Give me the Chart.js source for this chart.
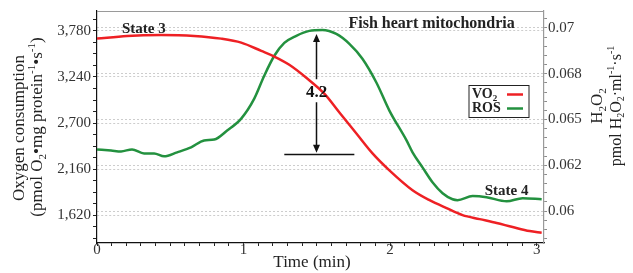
<!DOCTYPE html>
<html>
<head>
<meta charset="utf-8">
<script src="https://cdn.jsdelivr.net/npm/chart.js@4.4.1/dist/chart.umd.min.js"></script>
<style>
  body { margin: 0; background: #fff; }
</style>
</head>
<body>
<canvas id="myChart" width="633" height="273"></canvas>
<script>
// VO2 (left axis), time in minutes
const vo2Time = [0, 0.205, 0.437, 0.663, 0.847, 0.984, 1.121, 1.210, 1.312, 1.428, 1.551, 1.654, 1.770, 1.880, 1.995, 2.153, 2.269, 2.385, 2.494, 2.611, 2.727, 2.836, 2.952, 3.034];
const vo2Values = [3690, 3722, 3733, 3722, 3690, 3643, 3546, 3480, 3383, 3231, 3044, 2823, 2577, 2344, 2145, 1912, 1795, 1702, 1620, 1573, 1527, 1480, 1433, 1413];

// ROS / H2O2 (right axis)
const rosTime = [0, 0.096, 0.164, 0.239, 0.321, 0.390, 0.458, 0.547, 0.642, 0.731, 0.800, 0.888, 0.984, 1.073, 1.141, 1.210, 1.278, 1.360, 1.449, 1.538, 1.633, 1.722, 1.811, 1.907, 1.995, 2.112, 2.153, 2.221, 2.289, 2.358, 2.426, 2.460, 2.563, 2.658, 2.795, 2.904, 3.034];
const rosValues = [0.06337, 0.06331, 0.06326, 0.06337, 0.06315, 0.06315, 0.06299, 0.06321, 0.06348, 0.06386, 0.06391, 0.06440, 0.06505, 0.06614, 0.06739, 0.06848, 0.06918, 0.06957, 0.06984, 0.06989, 0.06967, 0.06913, 0.06832, 0.06701, 0.06549, 0.06386, 0.06321, 0.06239, 0.06158, 0.06098, 0.06065, 0.06060, 0.06082, 0.06076, 0.06054, 0.06071, 0.06065];

// tick labels
const xMajor = [0, 1, 2, 3];
const xLabels = ['0', '1', '2', '3'];
const leftMajor = [1620, 2160, 2700, 3240, 3780];
const leftLabels = ['1,620', '2,160', '2,700', '3,240', '3,780'];
const rightMajor = [0.06, 0.0625, 0.065, 0.0675, 0.07];
const rightLabels = ['0.06', '0.062', '0.065', '0.068', '0.07'];

const seriesNames = ['VO2', 'ROS'];

// annotation values (4.2-fold rise of ROS)
const arrowTime = 1.497;
const rosPeak = 0.06967;
const rosBase = 0.0631;
const foldLabel = '4.2';

const SERIF = "'Liberation Serif', 'DejaVu Serif', serif";
const RED = '#ee2024';
const GREEN = '#23913f';

function range(a, b, step) {
    const out = [];
    for (let v = a; v <= b + step / 1000; v += step) out.push(+v.toFixed(6));
    return out;
}

function makeTicks(minor, major) {
    return minor.map(v => ({ value: v, major: major.some(m => Math.abs(m - v) < 1e-7) }));
}

function labelFor(major, labels) {
    return function(value) {
        const i = major.findIndex(m => Math.abs(m - value) < 1e-7);
        return i >= 0 ? labels[i] : '';
    };
}

function drawRich(ctx, parts, x, y, size, weight, align) {
    const fontOf = p => weight + ' ' + (p[1] ? Math.round(size * 0.62) : size) + 'px ' + SERIF;
    let w = 0;
    parts.forEach(p => { ctx.font = fontOf(p); w += ctx.measureText(p[0]).width; });
    let cx = align === 'center' ? x - w / 2 : (align === 'right' ? x - w : x);
    ctx.textAlign = 'left';
    parts.forEach(p => {
        ctx.font = fontOf(p);
        const dy = p[1] === 'sub' ? size * 0.3 : (p[1] === 'sup' ? -size * 0.35 : 0);
        ctx.fillText(p[0], cx, y + dy);
        cx += ctx.measureText(p[0]).width;
    });
}

const overlayPlugin = {
    id: 'overlay',
    afterDraw(chart) {
        const ctx = chart.ctx;
        const a = chart.chartArea;
        const xs = chart.scales.x;
        const yl = chart.scales.y;
        const yr = chart.scales.y1;
        ctx.save();

        // top frame line
        ctx.strokeStyle = '#9a9a9a';
        ctx.lineWidth = 1;
        ctx.beginPath();
        ctx.moveTo(a.left, a.top + 0.5);
        ctx.lineTo(a.right, a.top + 0.5);
        ctx.stroke();

        ctx.fillStyle = '#222';
        ctx.textBaseline = 'middle';

        // left axis title
        ctx.save();
        ctx.translate(20, 128);
        ctx.rotate(-Math.PI / 2);
        drawRich(ctx, [['Oxygen consumption', '']], 0, 0, 17, 'normal', 'center');
        ctx.restore();
        ctx.save();
        ctx.translate(38, 127);
        ctx.rotate(-Math.PI / 2);
        drawRich(ctx, [['(pmol O', ''], ['2', 'sub'], ['\u2022mg protein', ''], ['-1', 'sup'], ['\u2022s', ''], ['-1', 'sup'], [')', '']], 0, 0, 17, 'normal', 'center');
        ctx.restore();

        // right axis title
        ctx.save();
        ctx.translate(598, 106);
        ctx.rotate(-Math.PI / 2);
        drawRich(ctx, [['H', ''], ['2', 'sub'], ['O', ''], ['2', 'sub']], 0, 0, 17, 'normal', 'center');
        ctx.restore();
        ctx.save();
        ctx.translate(617, 106);
        ctx.rotate(-Math.PI / 2);
        drawRich(ctx, [['pmol H', ''], ['2', 'sub'], ['O', ''], ['2', 'sub'], ['\u00b7ml', ''], ['-1', 'sup'], ['\u00b7s', ''], ['-1', 'sup']], 0, 0, 16, 'normal', 'center');
        ctx.restore();

        // x axis title
        drawRich(ctx, [['Time (min)', '']], 312, 263, 17, 'normal', 'center');

        // text annotations
        ctx.textBaseline = 'alphabetic';
        drawRich(ctx, [['Fish heart mitochondria', '']], xs.getPixelForValue(2.283), yr.getPixelForValue(0.07) , 16, 'bold', 'center');
        drawRich(ctx, [['State 3', '']], xs.getPixelForValue(0.17), yl.getPixelForValue(3757), 15, 'bold', 'left');
        drawRich(ctx, [['State 4', '']], xs.getPixelForValue(2.645), yr.getPixelForValue(0.06087), 15, 'bold', 'left');

        // fold-change arrow
        const ax = Math.round(xs.getPixelForValue(arrowTime)) + 0.5;
        const yTop = yr.getPixelForValue(rosPeak);
        const yBase = yr.getPixelForValue(rosBase);
        const yMid = (yTop + yBase) / 2 - 2;
        ctx.strokeStyle = '#111';
        ctx.fillStyle = '#111';
        ctx.lineWidth = 1.5;
        ctx.beginPath();
        ctx.moveTo(ax, yTop + 6);
        ctx.lineTo(ax, yMid - 13);
        ctx.moveTo(ax, yMid + 10);
        ctx.lineTo(ax, yBase - 7);
        ctx.moveTo(xs.getPixelForValue(1.278), Math.round(yBase) + 0.5);
        ctx.lineTo(xs.getPixelForValue(1.756), Math.round(yBase) + 0.5);
        ctx.stroke();
        ctx.beginPath();
        ctx.moveTo(ax, yTop);
        ctx.lineTo(ax - 3.5, yTop + 8);
        ctx.lineTo(ax + 3.5, yTop + 8);
        ctx.closePath();
        ctx.moveTo(ax, yBase - 1.5);
        ctx.lineTo(ax - 3.5, yBase - 9.5);
        ctx.lineTo(ax + 3.5, yBase - 9.5);
        ctx.closePath();
        ctx.fill();
        ctx.textBaseline = 'middle';
        drawRich(ctx, [[foldLabel, '']], ax, yMid, 17, 'bold', 'center');

        // legend box
        const bx = a.right - 75, by = a.top + 74.5, bw = 60, bh = 32;
        ctx.strokeStyle = '#222';
        ctx.lineWidth = 1;
        ctx.strokeRect(bx, by, bw, bh);
        const legendParts = [[['VO', ''], ['2', 'sub']], [['ROS', '']]];
        chart.data.datasets.forEach((ds, i) => {
            const ly = by + 9 + i * 14;
            ctx.fillStyle = '#222';
            drawRich(ctx, legendParts[i], bx + 3, ly, 14, 'bold', 'left');
            ctx.strokeStyle = ds.borderColor;
            ctx.lineWidth = 2.5;
            ctx.beginPath();
            ctx.moveTo(bx + 38, ly);
            ctx.lineTo(bx + 54, ly);
            ctx.stroke();
        });

        ctx.restore();
    }
};

const config = {
    type: 'line',
    data: {
        datasets: [{
            label: seriesNames[0],
            data: vo2Time.map((t, i) => ({ x: t, y: vo2Values[i] })),
            borderColor: RED,
            backgroundColor: RED,
            yAxisID: 'y'
        }, {
            label: seriesNames[1],
            data: rosTime.map((t, i) => ({ x: t, y: rosValues[i] })),
            borderColor: GREEN,
            backgroundColor: GREEN,
            yAxisID: 'y1'
        }]
    },
    options: {
        responsive: false,
        animation: false,
        layout: { padding: { top: 10, left: 0, right: 0, bottom: 0 } },
        elements: {
            point: { radius: 0 },
            line: { borderWidth: 2.5, cubicInterpolationMode: 'monotone' }
        },
        scales: {
            x: {
                type: 'linear',
                min: 0,
                max: 3.05,
                afterBuildTicks: s => { s.ticks = makeTicks(range(0, 3, 0.1), xMajor); },
                afterFit: s => { s.height = 30; },
                ticks: {
                    autoSkip: false,
                    maxRotation: 0,
                    padding: -5,
                    color: '#333',
                    font: { family: SERIF, size: 15 },
                    callback: labelFor(xMajor, xLabels)
                },
                grid: { drawOnChartArea: false, tickLength: 3, tickColor: '#222' },
                border: { color: '#111', width: 1.2 }
            },
            y: {
                position: 'left',
                min: 1293,
                max: 4014,
                afterBuildTicks: s => { s.ticks = makeTicks(range(1350, 3915, 135), leftMajor); },
                afterFit: s => { s.width = 97; },
                ticks: {
                    autoSkip: false,
                    padding: 2,
                    color: '#333',
                    font: { family: SERIF, size: 15 },
                    callback: labelFor(leftMajor, leftLabels)
                },
                grid: {
                    color: c => (c.tick && c.tick.major ? '#cdcdcd' : 'rgba(0,0,0,0)'),
                    tickLength: 4,
                    tickColor: '#222'
                },
                border: { color: '#111', width: 1.2, dash: [2, 2] }
            },
            y1: {
                position: 'right',
                min: 0.058261,
                max: 0.070924,
                afterBuildTicks: s => { s.ticks = makeTicks(range(0.0585, 0.0705, 0.0005), rightMajor); },
                afterFit: s => { s.width = 89; },
                ticks: {
                    autoSkip: false,
                    padding: 1,
                    color: '#333',
                    font: { family: SERIF, size: 15 },
                    callback: labelFor(rightMajor, rightLabels)
                },
                grid: {
                    color: c => (c.tick && c.tick.major ? '#cdcdcd' : 'rgba(0,0,0,0)'),
                    tickLength: 3,
                    tickColor: '#8a8a8a'
                },
                border: { color: '#9a9a9a', width: 1.2, dash: [2, 2] }
            }
        },
        plugins: {
            legend: { display: false },
            tooltip: { enabled: false }
        }
    },
    plugins: [overlayPlugin]
};

const myChart = document.getElementById('myChart');
const chart = new Chart(myChart, config);
</script>
</body>
</html>
